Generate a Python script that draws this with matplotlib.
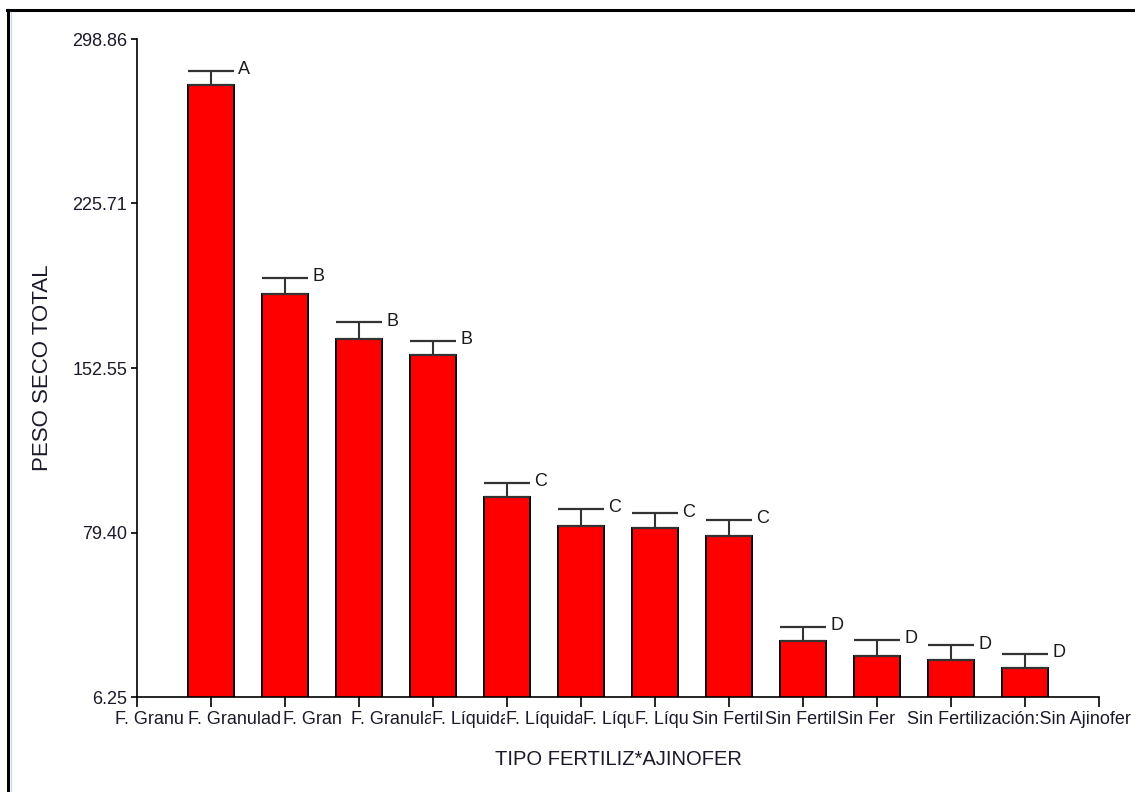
import numpy as np
import matplotlib.pyplot as plt
from matplotlib.lines import Line2D

plt.rcParams['font.family'] = ['Liberation Sans', 'DejaVu Sans']

# visible (truncated) category labels as in the reference
labels = ["F. Granu", "F. Granulad", "F. Gran", "F. Granulad", "F. Líquida",
          "F. Líquida:", "F. Líqui", "F. Líqu", "Sin Fertiliz", "Sin Fertiliza",
          "Sin Fer", "Sin Fertilización:Sin Ajinofer"]
means = [278.4, 185.3, 165.4, 158.2, 95.1, 82.4, 81.5, 77.9, 31.0, 24.6, 22.8, 19.0]
errs = [6.2, 7.4, 7.4, 6.5, 6.4, 7.3, 6.4, 7.2, 6.4, 7.1, 6.4, 6.5]
groups = ["A", "B", "B", "B", "C", "C", "C", "C", "D", "D", "D", "D"]
yticks = [6.25, 79.40, 152.55, 225.71, 298.86]

# where each label starts (pixels of the original), labels overlap like in the original
label_px = [115, 188, 283, 351, 432, 506, 583, 635, 692, 765, 837, 907]

fig = plt.figure(figsize=(11.35, 7.92), dpi=100)
ax = fig.add_axes([137/1135, 95/792, 962/1135, 658/792])

x = np.arange(1, len(means) + 1)
bw = 0.62
ax.bar(x, means, width=bw, color='#ff0000', edgecolor='black', linewidth=1.4, zorder=2)
ax.errorbar(x, means, yerr=[np.zeros(len(errs)), errs], fmt='none', ecolor='#333333',
            elinewidth=1.5, capsize=16.6, capthick=1.6, zorder=3)

for xi, m, e, g in zip(x, means, errs, groups):
    ax.annotate(g, xy=(xi + bw / 2, m + e), xytext=(3, 1), textcoords='offset points',
                ha='left', va='center', fontsize=13, color='#1a1a1a')

ax.set_xlim(0, 13)
ax.set_ylim(6.25, 298.86)
ax.set_xticks(np.arange(0, 14))
ax.set_xticklabels([])
ax.set_yticks(yticks)
ax.set_yticklabels(["%.2f" % t for t in yticks])
ax.spines['top'].set_visible(False)
ax.spines['right'].set_visible(False)
ax.spines['left'].set_linewidth(1.2)
ax.spines['bottom'].set_linewidth(1.2)
ax.tick_params(axis='y', length=4, width=1.2, pad=3, labelsize=13, labelcolor='#1a1a2a')
ax.tick_params(axis='x', length=7, width=1.2)

for i, (px, lab) in enumerate(zip(label_px, labels)):
    lx = (px - 137) / 74.0
    ax.text(lx, -0.022, lab, transform=ax.get_xaxis_transform(), ha='left', va='top',
            fontsize=13, color='#1a1a2a', clip_on=False, zorder=10 + i,
            bbox=dict(facecolor='white', edgecolor='none', pad=0.5))

ax.set_xlabel("TIPO FERTILIZ*AJINOFER", fontsize=14.5, color='#1a1a2a', labelpad=28)
ax.set_ylabel("PESO SECO TOTAL", fontsize=16, color='#1a1a2a', labelpad=14)

# outer frame of the original screenshot
top = 1 - 10/792
fig.add_artist(Line2D([7.5/1135, 7.5/1135], [0, top], transform=fig.transFigure,
                      color='black', lw=2.2))
fig.add_artist(Line2D([7/1135, 1], [top, top], transform=fig.transFigure,
                      color='black', lw=2.2))
fig.add_artist(Line2D([10.5/1135, 10.5/1135], [0, top - 2/792], transform=fig.transFigure,
                      color='#c8dcf0', lw=1))

plt.savefig("out.png", dpi=100)
